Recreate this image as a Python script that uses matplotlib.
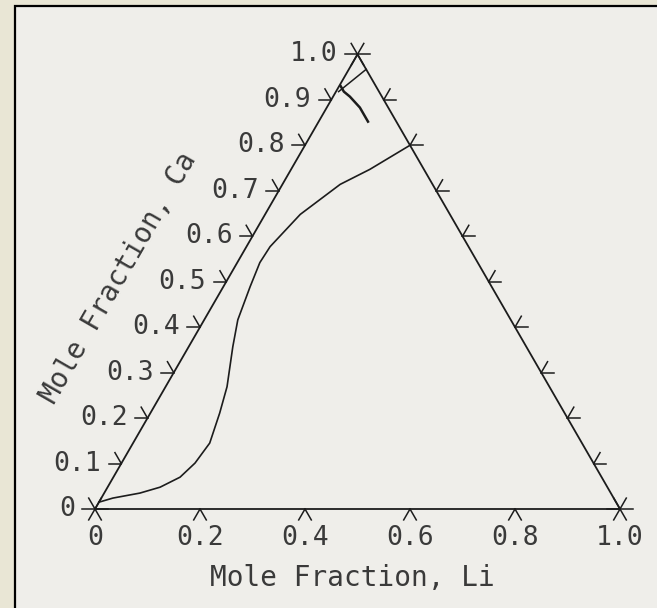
import numpy as np
import matplotlib.pyplot as plt
from matplotlib.patches import Rectangle

# main boundary curve (Li, Ca mole fractions)
curve_li = [0.0, 0.022, 0.068, 0.100, 0.127, 0.140, 0.146, 0.132, 0.117,
            0.084, 0.064, 0.051, 0.043, 0.045, 0.067, 0.110, 0.150, 0.200]
curve_ca = [0.015, 0.024, 0.035, 0.048, 0.070, 0.101, 0.145, 0.211, 0.269,
            0.357, 0.416, 0.489, 0.542, 0.577, 0.648, 0.714, 0.747, 0.800]

# short curve and tie line near the Ca corner
apex_li = [0.003, 0.015, 0.032, 0.063, 0.094]
apex_ca = [0.930, 0.918, 0.907, 0.883, 0.852]
tie_li = [0.033, 0.005]
tie_ca = [0.967, 0.918]

left_ticks = [0.1, 0.2, 0.3, 0.4, 0.5, 0.6, 0.7, 0.8, 0.9]
left_labels = ['0', '0.1', '0.2', '0.3', '0.4', '0.5', '0.6', '0.7', '0.8', '0.9', '1.0']
right_ticks = [0.1, 0.2, 0.3, 0.4, 0.5, 0.6, 0.7, 0.8, 0.9]
bottom_ticks = [0.2, 0.4, 0.6, 0.8]
bottom_labels = ['0', '0.2', '0.4', '0.6', '0.8', '1.0']

H = np.sqrt(3) / 2
D0 = np.array([1.0, 0.0])
D60 = np.array([0.5, H])
D120 = np.array([-0.5, H])
TL = 0.024          # tick length
INK = '#1c1c1c'
TXT = '#3a3a3a'
FONT = 'DejaVu Sans Mono'


def tern(li, ca):
    li = np.asarray(li, dtype=float)
    ca = np.asarray(ca, dtype=float)
    return li + ca / 2, ca * H


fig = plt.figure(figsize=(6.57, 6.08), dpi=100, facecolor='#e9e6d5')
ax = fig.add_axes([0, 0, 1, 1])
ax.set_facecolor('none')
ax.set_xlim(-95 / 525, 562 / 525)
ax.set_ylim(-99 / 525, 509 / 525)
ax.set_aspect('equal')
ax.axis('off')

# panel with black left/top border
ax.add_patch(Rectangle((15 / 657, -0.01), 1.0, 0.01 + 602 / 608,
                       transform=fig.transFigure, facecolor='#efeeea',
                       edgecolor='black', lw=1.6, zorder=-10, clip_on=False))

# triangle frame
tx, ty = tern([0, 1, 0, 0], [0, 0, 1, 0])
ax.plot(tx, ty, color=INK, lw=1.3)


def seg(p, d, a, b, lw=1.1):
    ax.plot([p[0] + a * d[0], p[0] + b * d[0]],
            [p[1] + a * d[1], p[1] + b * d[1]], color=INK, lw=lw)


# corner stars
for li, ca in [(0, 0), (1, 0), (0, 1)]:
    p = np.array(tern(li, ca))
    for d in (D0, D60, D120):
        seg(p, d, -TL, TL)

# edge ticks, drawn outward along the two other grid directions
for ca in left_ticks:
    p = np.array(tern(0, ca))
    seg(p, D0, -TL, 0)
    seg(p, D120, 0, TL)
for ca in right_ticks:
    p = np.array(tern(1 - ca, ca))
    seg(p, D0, 0, TL)
    seg(p, D60, 0, TL)
for li in bottom_ticks:
    p = np.array(tern(li, 0))
    seg(p, D60, -TL, 0)
    seg(p, D120, -TL, 0)

# tick labels
for i, lab in enumerate(left_labels):
    x, y = tern(0, i / 10)
    ax.text(x - 0.038, y, lab, ha='right', va='center', family=FONT,
            fontsize=19, color=TXT)
for i, lab in enumerate(bottom_labels):
    x, y = tern(i / 5, 0)
    ax.text(x, -0.056, lab, ha='center', va='center', family=FONT,
            fontsize=19, color=TXT)

ax.text(0.49, -0.131, 'Mole Fraction, Li', ha='center', va='center',
        family=FONT, fontsize=20, color=TXT)
ax.text(0.045, 0.44, 'Mole Fraction, Ca', ha='center', va='center',
        rotation=60, rotation_mode='anchor', family=FONT, fontsize=20, color=TXT)

# data curves
cx, cy = tern(curve_li, curve_ca)
ax.plot(cx, cy, color=INK, lw=1.2)
ax.plot(*tern(tie_li, tie_ca), color=INK, lw=1.1)
ax.plot(*tern(apex_li, apex_ca), color=INK, lw=1.8)

fig.savefig('out.png', dpi=100, facecolor=fig.get_facecolor())
